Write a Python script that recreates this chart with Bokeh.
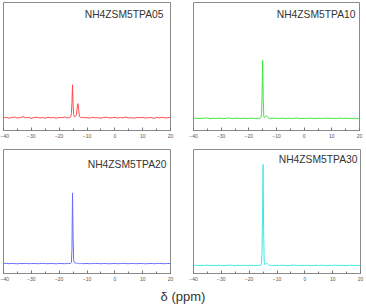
from bokeh.plotting import figure
from bokeh.models import Range1d, SingleIntervalTicker, Label, Div
from bokeh.layouts import column, row
from bokeh.embed import file_html
from bokeh.resources import INLINE

# chemical shift grid (ppm)
ppm = [-40, -39, -38, -37, -36, -35, -34, -33, -32, -31, -30, -29, -28, -27, -26, -25,
       -24, -23, -22, -21, -20, -19, -18, -17,
       -16.5, -16.0, -15.8, -15.6, -15.4, -15.2, -15.0, -14.8, -14.6, -14.4, -14.2, -14.0,
       -13.8, -13.6, -13.4, -13.2, -13.0, -12.8, -12.6, -12.4, -12.0, -11.5, -11.0,
       -10, -9, -8, -7, -6, -5, -4, -3, -2, -1, 0, 1, 2, 3, 4, 5, 6, 7, 8, 9, 10,
       11, 12, 13, 14, 15, 16, 17, 18, 19, 20]

tpa05 = [0.098, 0.103, 0.096, 0.101, 0.105, 0.097, 0.100, 0.108, 0.099, 0.102, 0.095, 0.101,
         0.104, 0.098, 0.100, 0.097, 0.103, 0.099, 0.101, 0.096, 0.102, 0.100, 0.105, 0.098,
         0.100, 0.104, 0.110, 0.135, 0.220, 0.357, 0.200, 0.125, 0.110, 0.106, 0.108, 0.112,
         0.125, 0.160, 0.205, 0.210, 0.165, 0.125, 0.108, 0.102, 0.100, 0.104, 0.099,
         0.101, 0.097, 0.103, 0.099, 0.100, 0.096, 0.102, 0.104, 0.098, 0.100, 0.103, 0.097,
         0.101, 0.099, 0.105, 0.098, 0.100, 0.096, 0.102, 0.099, 0.103, 0.097, 0.100, 0.101,
         0.095, 0.102, 0.099, 0.104, 0.098, 0.100, 0.102]

tpa10 = [0.094, 0.097, 0.093, 0.096, 0.095, 0.098, 0.092, 0.096, 0.094, 0.097, 0.095, 0.093,
         0.096, 0.098, 0.094, 0.095, 0.097, 0.093, 0.096, 0.094, 0.095, 0.097, 0.093, 0.096,
         0.095, 0.094, 0.097, 0.102, 0.130, 0.300, 0.547, 0.250, 0.112, 0.100, 0.104, 0.108,
         0.113, 0.115, 0.111, 0.105, 0.100, 0.097, 0.095, 0.096, 0.094, 0.097, 0.095,
         0.096, 0.094, 0.097, 0.093, 0.095, 0.096, 0.094, 0.098, 0.095, 0.093, 0.096, 0.094,
         0.097, 0.095, 0.093, 0.096, 0.095, 0.094, 0.097, 0.095, 0.096, 0.093, 0.095, 0.097,
         0.094, 0.096, 0.095, 0.093, 0.096, 0.094, 0.095]

tpa20 = [0.080, 0.082, 0.079, 0.081, 0.080, 0.078, 0.081, 0.080, 0.082, 0.079, 0.080, 0.081,
         0.079, 0.080, 0.082, 0.080, 0.079, 0.081, 0.080, 0.078, 0.081, 0.080, 0.079, 0.081,
         0.080, 0.081, 0.083, 0.090, 0.200, 0.650, 0.300, 0.110, 0.090, 0.086, 0.084, 0.083,
         0.084, 0.083, 0.082, 0.081, 0.080, 0.081, 0.079, 0.080, 0.081, 0.079, 0.080,
         0.081, 0.079, 0.080, 0.082, 0.080, 0.079, 0.081, 0.080, 0.078, 0.080, 0.081, 0.079,
         0.080, 0.082, 0.080, 0.079, 0.081, 0.080, 0.079, 0.081, 0.080, 0.078, 0.080, 0.081,
         0.079, 0.080, 0.082, 0.080, 0.079, 0.081, 0.080]

tpa30 = [0.064, 0.067, 0.063, 0.066, 0.065, 0.068, 0.064, 0.066, 0.063, 0.067, 0.065, 0.064,
         0.066, 0.068, 0.065, 0.063, 0.066, 0.065, 0.067, 0.064, 0.066, 0.065, 0.063, 0.066,
         0.065, 0.066, 0.068, 0.075, 0.150, 0.450, 0.880, 0.350, 0.090, 0.072, 0.075, 0.080,
         0.083, 0.082, 0.078, 0.074, 0.070, 0.068, 0.066, 0.065, 0.066, 0.064, 0.065,
         0.066, 0.064, 0.067, 0.065, 0.063, 0.066, 0.068, 0.065, 0.064, 0.066, 0.065, 0.067,
         0.063, 0.065, 0.066, 0.064, 0.067, 0.065, 0.063, 0.066, 0.065, 0.068, 0.064, 0.066,
         0.065, 0.063, 0.067, 0.065, 0.066, 0.064, 0.065]

names = ["NH4ZSM5TPA05", "NH4ZSM5TPA10", "NH4ZSM5TPA20", "NH4ZSM5TPA30"]
series = [tpa05, tpa10, tpa20, tpa30]
colors = ["#ff4a4a", "#3ee63e", "#6b6bff", "#3ee8e8"]

# geometry per panel: (width, height, left, right, top, bottom, label_dx, label_dy)
geo = [
    (183, 145, 3, 13, 2, 14, -7, -6),
    (183, 145, 10, 7, 2, 15, -4, -6),
    (183, 143, 3, 13, 4, 15, -4, -9),
    (183, 143, 10, 6, 4, 15, -3, -4),
]

figs = []
for name, ys, col, g in zip(names, series, colors, geo):
    w, h, bl, br, bt, bb, dx, dy = g
    p = figure(width=w, height=h, output_backend="svg", toolbar_location=None,
               x_range=Range1d(-40, 20), y_range=Range1d(0, 1),
               min_border_left=bl, min_border_right=br, min_border_top=bt,
               min_border_bottom=bb)
    p.line(ppm, ys, line_color=col, line_width=1)
    p.xgrid.visible = False
    p.ygrid.visible = False
    p.yaxis.visible = False
    p.outline_line_color = "#8a8a8a"
    p.outline_line_width = 1
    ax = p.xaxis[0]
    ax.ticker = SingleIntervalTicker(interval=10, num_minor_ticks=2)
    ax.axis_line_color = "#8a8a8a"
    ax.major_tick_line_color = "#777777"
    ax.minor_tick_line_color = "#777777"
    ax.major_tick_in = 3
    ax.major_tick_out = 0
    ax.minor_tick_in = 2
    ax.minor_tick_out = 0
    ax.major_label_text_font_size = "5px"
    ax.major_label_text_color = "#555555"
    ax.major_label_text_font = "Liberation Sans"
    ax.major_label_standoff = 3
    p.add_layout(Label(x=20, y=1, x_offset=dx, y_offset=dy, text=name,
                       text_align="right", text_baseline="top",
                       text_font="Liberation Sans", text_font_size="10.3px",
                       text_color="#333333"))
    figs.append(p)

xlabel = Div(text="δ (ppm)", width=366, height=18, margin=(0, 0, 0, 0),
             styles={"text-align": "center", "font-size": "13px",
                     "font-family": "Liberation Sans", "color": "#333333",
                     "line-height": "18px", "width": "366px"})

layout = column(row(figs[0], figs[1]), row(figs[2], figs[3]), xlabel)
open("out.html", "w").write(file_html(layout, INLINE))
